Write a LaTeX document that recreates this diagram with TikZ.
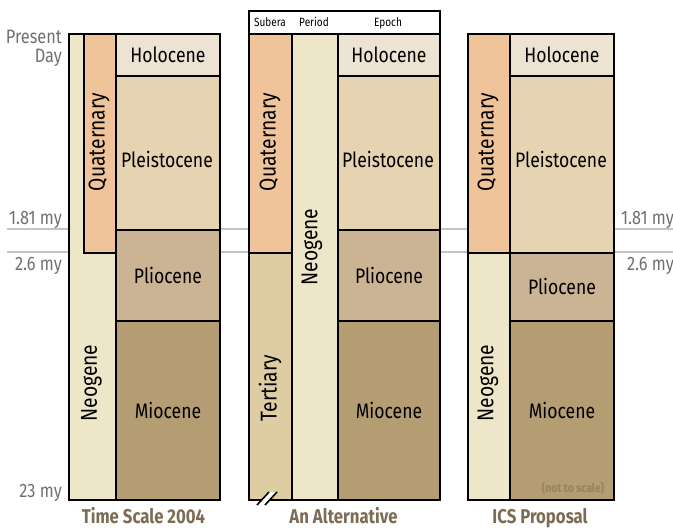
\documentclass[tikz,border=0pt]{standalone}
\usepackage{fontspec}
\setmainfont[FakeStretch=0.84]{Fira Sans}
\usetikzlibrary{positioning}
\definecolor{quatcolor}{RGB}{240,196,154}
\definecolor{neocolor}{RGB}{237,230,201}
\definecolor{tertcolor}{RGB}{222,205,163}
\definecolor{holocolor}{RGB}{237,227,211}
\definecolor{pleicolor}{RGB}{229,211,178}
\definecolor{pliocolor}{RGB}{203,180,148}
\definecolor{miocolor}{RGB}{180,156,115}
\definecolor{titlecolor}{RGB}{124,108,84}
\definecolor{notecolor}{RGB}{150,131,96}
\definecolor{agecolor}{RGB}{112,112,112}
\definecolor{gridcolor}{RGB}{196,196,196}
\tikzset{
    band/.style={rectangle, draw=black, line width=1.9bp, inner sep=0pt,
        anchor=north west, font=\fontsize{21}{24}\selectfont},
    vlabel/.style={rotate=90, inner sep=0pt, font=\fontsize{23}{26}\selectfont},
    elabel/.style={inner sep=0pt, font=\fontsize{21}{24}\selectfont},
    agelabel/.style={inner sep=0pt, text=agecolor, font=\fontsize{19.5}{21}\selectfont},
    headlabel/.style={inner sep=0pt, anchor=base, font=\fontsize{12}{14}\selectfont},
    title/.style={inner sep=0pt, anchor=base, text=titlecolor, font=\bfseries\fontsize{20}{22}\selectfont},
    ageline/.style={draw=gridcolor, line width=1.2bp}
}

\begin{document}
\begin{tikzpicture}[x=1bp, y=-1bp]

    \useasboundingbox (0,0) rectangle (673,528);

    \coordinate (lineA) at (7,229);
    \coordinate (lineAend) at (673,229);
    \coordinate (lineB) at (7,252);
    \coordinate (lineBend) at (673,252);
    \draw[ageline] (lineA) -- (lineAend);
    \draw[ageline] (lineB) -- (lineBend);

    % Time Scale 2004
    \node[band, fill=neocolor, minimum width=47bp, minimum height=466bp] (neoA) at (68,33) {};
    \node[band, fill=quatcolor, minimum width=32bp, minimum height=219bp] (quatA) at (83,33) {};
    \node[band, fill=holocolor, minimum width=104bp, minimum height=42bp] (holoA) at (115,33) {Holocene};
    \node[band, fill=pleicolor, minimum width=104bp, minimum height=154bp] (pleiA) at (115,75) {};
    \node[band, fill=pliocolor, minimum width=104bp, minimum height=91bp] (plioA) at (115,229) {Pliocene};
    \node[band, fill=miocolor, minimum width=104bp, minimum height=179bp] (mioA) at (115,320) {Miocene};
    \node[vlabel] (quatAtext) at (99,142) {Quaternary};
    \node[vlabel] (neoAtext) at (91.5,383) {Neogene};
    \node[elabel] (pleiAtext) at (167,159) {Pleistocene};

    % An Alternative
    \node[band, fill=white, minimum width=191bp, minimum height=23bp] (headB) at (248,10) {};
    \node[band, fill=quatcolor, minimum width=43bp, minimum height=219bp] (quatB) at (248,33) {};
    \node[band, fill=tertcolor, minimum width=43bp, minimum height=247bp] (tertB) at (248,252) {};
    \node[band, fill=neocolor, minimum width=46bp, minimum height=466bp] (neoB) at (291,33) {};
    \node[band, fill=holocolor, minimum width=102bp, minimum height=42bp] (holoB) at (337,33) {Holocene};
    \node[band, fill=pleicolor, minimum width=102bp, minimum height=154bp] (pleiB) at (337,75) {};
    \node[band, fill=pliocolor, minimum width=102bp, minimum height=91bp] (plioB) at (337,229) {Pliocene};
    \node[band, fill=miocolor, minimum width=102bp, minimum height=179bp] (mioB) at (337,320) {Miocene};
    \node[headlabel] (subera) at (270,27) {Subera};
    \node[headlabel] (period) at (314,27) {Period};
    \node[headlabel] (epoch) at (388,27) {Epoch};
    \node[vlabel] (quatBtext) at (270,142) {Quaternary};
    \node[vlabel] (tertBtext) at (270,388) {Tertiary};
    \node[vlabel] (neoBtext) at (312,247) {Neogene};
    \node[elabel] (pleiBtext) at (388,159) {Pleistocene};
    \coordinate (breakA) at (257,505);
    \coordinate (breakB) at (269,492);
    \coordinate (breakC) at (265,505);
    \coordinate (breakD) at (277,492);
    \fill[white] (breakA) -- (breakB) -- (breakD) -- (breakC) -- cycle;
    \draw[line width=1.6bp] (breakA) -- (breakB);
    \draw[line width=1.6bp] (breakC) -- (breakD);

    % ICS Proposal
    \node[band, fill=quatcolor, minimum width=42bp, minimum height=219bp] (quatC) at (467,33) {};
    \node[band, fill=neocolor, minimum width=42bp, minimum height=247bp] (neoC) at (467,252) {};
    \node[band, fill=holocolor, minimum width=104bp, minimum height=42bp] (holoC) at (509,33) {Holocene};
    \node[band, fill=pleicolor, minimum width=104bp, minimum height=177bp] (pleiC) at (509,75) {};
    \node[band, fill=pliocolor, minimum width=104bp, minimum height=68bp] (plioC) at (509,252) {Pliocene};
    \node[band, fill=miocolor, minimum width=104bp, minimum height=179bp] (mioC) at (509,320) {Miocene};
    \node[vlabel] (quatCtext) at (488,142) {Quaternary};
    \node[vlabel] (neoCtext) at (488,383) {Neogene};
    \node[elabel] (pleiCtext) at (561,159) {Pleistocene};
    \node[inner sep=0pt, text=notecolor, font=\bfseries\fontsize{12.5}{14}\selectfont] (scale) at (573,488) {(not to scale)};

    % ages
    \node[agelabel, anchor=base east, align=right] (present) at (62,63) {Present\\[-1pt]Day};
    \node[agelabel, anchor=base east] (ageA) at (62,225) {1.81 my};
    \node[agelabel, anchor=base east] (ageB) at (62,270) {2.6 my};
    \node[agelabel, anchor=base east] (ageC) at (62,497) {23 my};
    \node[agelabel, anchor=base east] (ageAr) at (674,225) {1.81 my};
    \node[agelabel, anchor=base east] (ageBr) at (674,270) {2.6 my};

    \node[title] (tsA) at (143.5,523) {Time Scale 2004};
    \node[title] (tsB) at (343.5,523) {An Alternative};
    \node[title] (tsC) at (540,523) {ICS Proposal};

\end{tikzpicture}
\end{document}
